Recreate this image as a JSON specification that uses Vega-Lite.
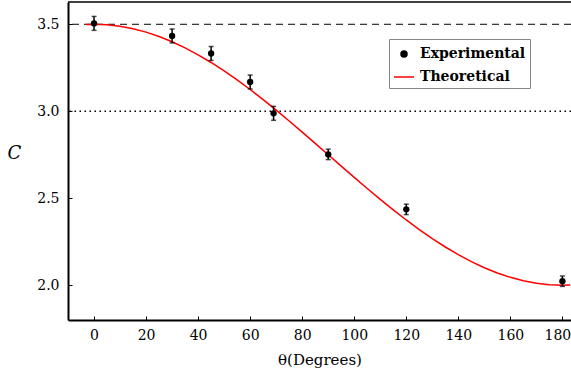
{
  "$schema": "https://vega.github.io/schema/vega-lite/v6.json",
  "width": 503,
  "height": 318,
  "autosize": {"type": "none"},
  "padding": {"left": 68, "top": 2, "right": 0, "bottom": 58},
  "background": "white",
  "config": {
    "view": {"stroke": null},
    "axis": {
      "grid": false,
      "domainColor": "black",
      "domainWidth": 2,
      "tickColor": "black",
      "tickWidth": 1,
      "labelFont": "DejaVu Serif",
      "labelFontSize": 14,
      "labelColor": "black",
      "labelOverlap": false,
      "titleFont": "DejaVu Serif",
      "titleFontWeight": "normal",
      "titleColor": "black"
    }
  },
  "datasets": {
    "experiment": [
      {"theta": 0, "C": 3.505, "err": 0.04},
      {"theta": 30, "C": 3.433, "err": 0.04},
      {"theta": 45, "C": 3.332, "err": 0.04},
      {"theta": 60, "C": 3.168, "err": 0.04},
      {"theta": 69, "C": 2.988, "err": 0.04},
      {"theta": 90, "C": 2.752, "err": 0.03},
      {"theta": 120, "C": 2.436, "err": 0.03},
      {"theta": 180, "C": 2.023, "err": 0.03}
    ],
    "theory": [
      {"theta": -3, "C": 3.499, "series": "Theoretical"},
      {"theta": 0, "C": 3.5, "series": "Theoretical"},
      {"theta": 5, "C": 3.4971, "series": "Theoretical"},
      {"theta": 10, "C": 3.4886, "series": "Theoretical"},
      {"theta": 15, "C": 3.4744, "series": "Theoretical"},
      {"theta": 20, "C": 3.4548, "series": "Theoretical"},
      {"theta": 25, "C": 3.4297, "series": "Theoretical"},
      {"theta": 30, "C": 3.3995, "series": "Theoretical"},
      {"theta": 35, "C": 3.3644, "series": "Theoretical"},
      {"theta": 40, "C": 3.3245, "series": "Theoretical"},
      {"theta": 45, "C": 3.2803, "series": "Theoretical"},
      {"theta": 50, "C": 3.2321, "series": "Theoretical"},
      {"theta": 55, "C": 3.1802, "series": "Theoretical"},
      {"theta": 60, "C": 3.125, "series": "Theoretical"},
      {"theta": 65, "C": 3.067, "series": "Theoretical"},
      {"theta": 70, "C": 3.0065, "series": "Theoretical"},
      {"theta": 75, "C": 2.9441, "series": "Theoretical"},
      {"theta": 80, "C": 2.8802, "series": "Theoretical"},
      {"theta": 85, "C": 2.8154, "series": "Theoretical"},
      {"theta": 90, "C": 2.75, "series": "Theoretical"},
      {"theta": 95, "C": 2.6846, "series": "Theoretical"},
      {"theta": 100, "C": 2.6198, "series": "Theoretical"},
      {"theta": 105, "C": 2.5559, "series": "Theoretical"},
      {"theta": 110, "C": 2.4935, "series": "Theoretical"},
      {"theta": 115, "C": 2.433, "series": "Theoretical"},
      {"theta": 120, "C": 2.375, "series": "Theoretical"},
      {"theta": 125, "C": 2.3198, "series": "Theoretical"},
      {"theta": 130, "C": 2.2679, "series": "Theoretical"},
      {"theta": 135, "C": 2.2197, "series": "Theoretical"},
      {"theta": 140, "C": 2.1755, "series": "Theoretical"},
      {"theta": 145, "C": 2.1356, "series": "Theoretical"},
      {"theta": 150, "C": 2.1005, "series": "Theoretical"},
      {"theta": 155, "C": 2.0703, "series": "Theoretical"},
      {"theta": 160, "C": 2.0452, "series": "Theoretical"},
      {"theta": 165, "C": 2.0256, "series": "Theoretical"},
      {"theta": 170, "C": 2.0114, "series": "Theoretical"},
      {"theta": 175, "C": 2.0029, "series": "Theoretical"},
      {"theta": 180, "C": 2.0, "series": "Theoretical"},
      {"theta": 183, "C": 2.001, "series": "Theoretical"}
    ],
    "dashedRef": [{"level": 3.5}],
    "dottedRef": [{"level": 3.0}],
    "topFrame": [{"level": 3.628}]
  },
  "layer": [
    {
      "data": {"name": "dashedRef"},
      "mark": {"type": "rule", "color": "black", "strokeWidth": 1, "strokeDash": [7, 5]},
      "encoding": {
        "y": {"field": "level", "type": "quantitative", "scale": {"domain": [1.8, 3.628], "nice": false, "zero": false},
          "axis": {
            "title": "C",
            "titleFont": "DejaVu Serif",
            "titleFontStyle": "italic",
            "titleFontSize": 18,
            "titleAngle": 0,
            "titleAlign": "center",
            "titleBaseline": "middle",
            "titleX": -54,
            "titleY": 151,
            "labelFont": "DejaVu Serif",
            "labelFontSize": 14,
            "values": [2.0, 2.5, 3.0, 3.5],
            "format": ".1f",
            "tickSize": -4,
            "labelPadding": 13
          }
        }
      }
    },
    {
      "data": {"name": "dottedRef"},
      "mark": {"type": "rule", "color": "black", "strokeWidth": 1.5, "strokeDash": [1.5, 3.5]},
      "encoding": {"y": {"field": "level", "type": "quantitative"}}
    },
    {
      "data": {"name": "topFrame"},
      "mark": {"type": "rule", "color": "black", "strokeWidth": 1.5},
      "encoding": {"y": {"field": "level", "type": "quantitative"}}
    },
    {
      "data": {"name": "theory"},
      "mark": {"type": "line", "strokeWidth": 1.5},
      "encoding": {
        "x": {"field": "theta", "type": "quantitative", "scale": {"domain": [-10, 183.3], "nice": false, "zero": false},
          "axis": {
            "title": "θ(Degrees)",
            "titleFont": "DejaVu Serif",
            "titleFontSize": 15,
            "titlePadding": 10,
            "labelFont": "DejaVu Serif",
            "labelFontSize": 14,
            "values": [0, 20, 40, 60, 80, 100, 120, 140, 160, 180],
            "labelOffset": {"condition": {"test": "datum.value == 180", "value": -5}, "value": 0},
            "tickSize": -4,
            "labelPadding": 12
          }
        },
        "y": {"field": "C", "type": "quantitative"},
        "color": {
          "field": "series", "type": "nominal",
          "scale": {"domain": ["Experimental", "Theoretical"], "range": ["black", "red"]},
          "legend": {
            "orient": "none", "legendX": 321, "legendY": 37, "title": null,
            "strokeColor": "#888", "fillColor": "white", "padding": 4, "rowPadding": 5,
            "labelFont": "DejaVu Serif", "labelFontWeight": "bold", "labelFontSize": 14, "labelColor": "black",
            "symbolStrokeWidth": 1.5, "symbolSize": 400, "labelOffset": 5,
            "encode": {
              "symbols": {
                "update": {
                  "shape": {"signal": "datum.value === 'Experimental' ? 'circle' : 'stroke'"},
                  "fill": {"signal": "datum.value === 'Experimental' ? 'black' : 'transparent'"},
                  "stroke": {"signal": "datum.value === 'Experimental' ? 'transparent' : 'red'"},
                  "size": {"signal": "datum.value === 'Experimental' ? 36 : 400"},
                  "strokeWidth": {"value": 1.5},
                  "opacity": {"value": 1}
                }
              }
            }
          }
        }
      }
    },
    {
      "data": {"name": "experiment"},
      "mark": {"type": "errorbar", "color": "black", "ticks": {"size": 5, "thickness": 1.5}, "rule": {"strokeWidth": 1.5}},
      "encoding": {
        "x": {"field": "theta", "type": "quantitative"},
        "y": {"field": "C", "type": "quantitative"},
        "yError": {"field": "err"}
      }
    },
    {
      "data": {"name": "experiment"},
      "mark": {"type": "point", "filled": true, "size": 40, "opacity": 1, "color": "black"},
      "encoding": {
        "x": {"field": "theta", "type": "quantitative"},
        "y": {"field": "C", "type": "quantitative"}
      }
    }
  ]
}
